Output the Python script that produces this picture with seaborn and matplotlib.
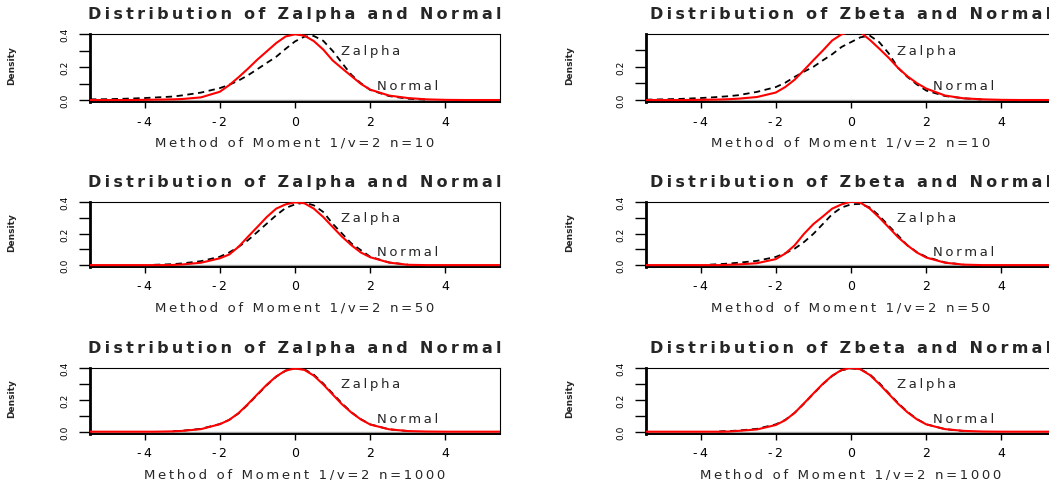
import numpy as np
import pandas as pd
import matplotlib
matplotlib.use("Agg")
import matplotlib.pyplot as plt
import seaborn as sns

# ---------------------------------------------------------------- data
X_GRID = [-5.45, -5.0, -4.5, -4.0, -3.75, -3.5, -3.25, -3.0, -2.5, -2.0, -1.75,
          -1.5, -1.25, -1.0, -0.75, -0.5, -0.25, 0.0, 0.25, 0.5, 0.75, 1.0,
          1.25, 1.5, 1.75, 2.0, 2.5, 3.0, 3.5, 4.0, 4.5, 5.0, 5.45]
nan = float("nan")

# n = 10
zalpha_n10 = [0.004, 0.005, 0.008, 0.012, 0.015, 0.018, 0.021, 0.028, 0.045, 0.072, 0.092,
              0.118, 0.150, 0.187, 0.225, 0.262, 0.310, 0.355, 0.384, 0.388, 0.359, 0.298,
              0.224, 0.153, 0.102, 0.061, 0.024, 0.008, 0.002, nan, nan, nan, nan]
normal_a_n10 = [0.0, 0.0, 0.0, 0.001, 0.002, 0.003, 0.004, 0.006, 0.016, 0.050, 0.090,
                0.138, 0.190, 0.245, 0.295, 0.345, 0.385, 0.398, 0.390, 0.357, 0.306, 0.240,
                0.192, 0.145, 0.098, 0.063, 0.027, 0.012, 0.004, 0.001, 0.0, 0.0, 0.0]
zbeta_n10 = [0.002, 0.004, 0.007, 0.012, 0.015, 0.019, 0.023, 0.029, 0.049, 0.078, 0.104,
             0.139, 0.171, 0.200, 0.239, 0.276, 0.320, 0.349, 0.378, 0.388, 0.349, 0.282,
             0.194, 0.139, 0.094, 0.057, 0.024, 0.010, 0.003, nan, nan, nan, nan]
normal_b_n10 = [0.0, 0.0, 0.0, 0.001, 0.002, 0.003, 0.005, 0.008, 0.018, 0.045, 0.078,
                0.122, 0.180, 0.240, 0.298, 0.359, 0.396, 0.412, 0.408, 0.363, 0.310, 0.255,
                0.194, 0.143, 0.102, 0.069, 0.027, 0.010, 0.004, 0.001, 0.0, 0.0, 0.0]

# n = 50
zalpha_n50 = [nan, nan, nan, nan, 0.002, 0.004, 0.006, 0.011, 0.025, 0.053, 0.080,
              0.116, 0.158, 0.210, 0.263, 0.316, 0.362, 0.385, 0.396, 0.379, 0.337, 0.263,
              0.200, 0.137, 0.095, 0.053, 0.017, 0.003, nan, nan, nan, nan, nan]
normal_a_n50 = [0.0, 0.0, 0.0, 0.0, 0.0, 0.0, 0.001, 0.004, 0.015, 0.043, 0.067,
                0.116, 0.180, 0.242, 0.305, 0.358, 0.385, 0.398, 0.392, 0.358, 0.305, 0.242,
                0.180, 0.126, 0.080, 0.050, 0.016, 0.002, 0.0, 0.0, 0.0, 0.0, 0.0]
zbeta_n50 = [nan, nan, nan, nan, 0.003, 0.006, 0.010, 0.015, 0.027, 0.052, 0.075,
             0.104, 0.146, 0.198, 0.260, 0.323, 0.365, 0.385, 0.388, 0.365, 0.313, 0.250,
             0.188, 0.125, 0.083, 0.052, 0.017, 0.003, nan, nan, nan, nan, nan]
normal_b_n50 = [0.0, 0.0, 0.0, 0.0, 0.0, 0.0, 0.002, 0.004, 0.012, 0.038, 0.073,
                0.125, 0.198, 0.260, 0.308, 0.358, 0.385, 0.402, 0.396, 0.358, 0.302, 0.240,
                0.177, 0.125, 0.080, 0.048, 0.015, 0.003, 0.0, 0.0, 0.0, 0.0, 0.0]

# n = 1000
zalpha_n1000 = [nan, nan, nan, nan, nan, nan, 0.003, 0.006, 0.018, 0.048, 0.074,
                0.115, 0.170, 0.232, 0.292, 0.345, 0.383, 0.397, 0.392, 0.358, 0.303, 0.240,
                0.178, 0.122, 0.079, 0.046, 0.015, 0.004, nan, nan, nan, nan, nan]
normal_a_n1000 = [0.0, 0.0, 0.0, 0.0, 0.0, 0.001, 0.002, 0.005, 0.016, 0.047, 0.074,
                  0.117, 0.174, 0.235, 0.295, 0.347, 0.384, 0.397, 0.388, 0.352, 0.297, 0.234,
                  0.172, 0.120, 0.077, 0.045, 0.015, 0.004, 0.001, 0.0, 0.0, 0.0, 0.0]
zbeta_n1000 = [nan, nan, nan, nan, nan, 0.002, 0.004, 0.007, 0.018, 0.046, 0.074,
               0.118, 0.176, 0.238, 0.298, 0.350, 0.386, 0.397, 0.392, 0.360, 0.306, 0.243,
               0.180, 0.125, 0.080, 0.047, 0.016, 0.004, nan, nan, nan, nan, nan]
normal_b_n1000 = [0.0, 0.0, 0.0, 0.0, 0.0, 0.0, 0.001, 0.005, 0.014, 0.042, 0.072,
                  0.118, 0.178, 0.240, 0.300, 0.352, 0.388, 0.400, 0.392, 0.356, 0.300, 0.238,
                  0.176, 0.122, 0.078, 0.046, 0.016, 0.005, 0.001, 0.0, 0.0, 0.0, 0.0]

SAMPLE_SIZES = [10, 50, 1000]
STAT_NAMES = ["Zalpha", "Zbeta"]
Y_TICKS = [0.0, 0.1, 0.2, 0.3, 0.4]
Y_TICK_LABELS = ["0.0", "", "0.2", "", "0.4"]
X_TICKS = [-4, -2, 0, 2, 4]
X_TICK_LABELS = ["-4", "-2", "0", "2", "4"]

CURVES = {
    (0, 0): (zalpha_n10, normal_a_n10), (0, 1): (zbeta_n10, normal_b_n10),
    (1, 0): (zalpha_n50, normal_a_n50), (1, 1): (zbeta_n50, normal_b_n50),
    (2, 0): (zalpha_n1000, normal_a_n1000), (2, 1): (zbeta_n1000, normal_b_n1000),
}

# ---------------------------------------------------------------- style
sns.set_theme(style="white")
plt.rcParams["font.family"] = ["DejaVu Sans"]

THIN = "\u2009"


def track(s, n=1):
    """Widen the letter spacing of a label with thin spaces."""
    return (THIN * n).join(s)


fig = plt.figure(figsize=(10.49, 4.81), dpi=100)
W, H = 1049.0, 481.0

COL_LEFT = [90, 646]
AX_W = 410
# (top px, bottom px) of each row's frame
ROW_PX = [(35, 103), (203, 268), (369, 434.6)]
Y_BOTTOM = -0.012

for r, n in enumerate(SAMPLE_SIZES):
    top, bot = ROW_PX[r]
    for c, stat in enumerate(STAT_NAMES):
        ax = fig.add_axes([COL_LEFT[c] / W, 1 - bot / H, AX_W / W, (bot - top) / H])
        dens_z, dens_n = CURVES[(r, c)]
        df = pd.DataFrame({"x": X_GRID, "z": dens_z, "n": dens_n})

        ax.axhline(0, color="#a0a0a0", lw=1.0, zorder=1)
        dz = df[["x", "z"]].dropna()
        sns.lineplot(data=dz, x="x", y="z", ax=ax, color="black", lw=1.3,
                     linestyle=(0, (3.5, 2.5)), sort=False, estimator=None, zorder=2)
        sns.lineplot(data=df, x="x", y="n", ax=ax, color="red", lw=1.5,
                     sort=False, estimator=None, zorder=3)

        y_top = 0.398 if (r, c) == (0, 1) else 0.4
        ax.set_xlim(-5.45, 5.45)
        ax.set_ylim(Y_BOTTOM, y_top)

        ax.set_xticks(X_TICKS)
        ax.set_xticklabels([track(t) for t in X_TICK_LABELS])
        yt = [t for t in Y_TICKS if t <= y_top + 1e-9]
        ax.set_yticks(yt)
        ax.set_yticklabels(Y_TICK_LABELS[:len(yt)], rotation=90, va="center")

        ax.tick_params(axis="x", direction="out", length=4, width=1, pad=5,
                       labelsize=9, colors="black", bottom=True)
        ax.tick_params(axis="y", direction="out", length=8, width=1, pad=7,
                       labelsize=6.5, colors="black", left=True)

        for side, lw in (("top", 0.8), ("right", 0.8), ("left", 2.0), ("bottom", 1.4)):
            ax.spines[side].set_visible(True)
            ax.spines[side].set_color("black")
            ax.spines[side].set_linewidth(lw)

        ax.text(2.0, 0.30, track("Zalpha"), ha="center", va="center", fontsize=9.5)
        ax.text(3.0, 0.085, track("Normal"), ha="center", va="center", fontsize=9.5)

        ax.set_title(track(f"Distribution of {stat} and Normal"), fontsize=11.5,
                     fontweight="bold", pad=11.5)
        ax.set_xlabel(track(f"Method of Moment 1/v=2 n={n}"), fontsize=9.5,
                      labelpad=6)
        ax.set_ylabel("Density", fontsize=6.5, fontweight="bold")
        ax.yaxis.set_label_coords(-0.18 if c == 0 else -0.175, 0.55)

fig.savefig("out.png", dpi=100)
